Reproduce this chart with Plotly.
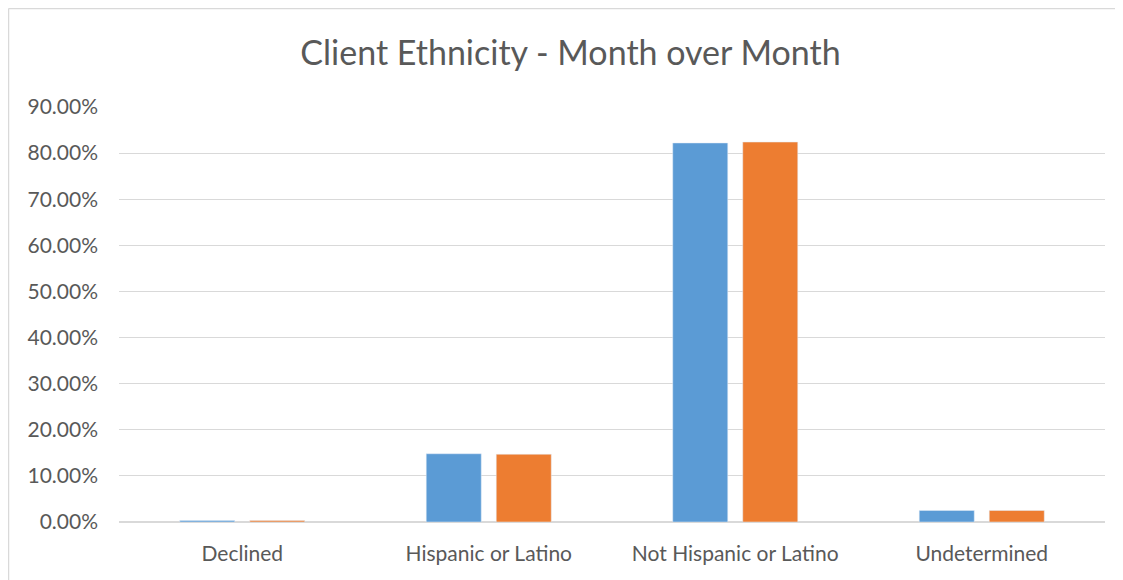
import plotly.graph_objects as go

categories = ["Declined", "Hispanic or Latino", "Not Hispanic or Latino", "Undetermined"]
month_1 = [0.003, 0.148, 0.822, 0.025]
month_2 = [0.003, 0.147, 0.824, 0.025]

fig = go.Figure()
fig.add_trace(go.Bar(x=categories, y=month_1, name="Month 1", marker_color="#5B9BD5"))
fig.add_trace(go.Bar(x=categories, y=month_2, name="Month 2", marker_color="#ED7D31"))

# chart frame (page body adds an 8px offset): left and top edges only
W, H = 1115, 572
L, R, T, B = 111, 18, 99, 58
pw, ph = W - L - R, H - T - B
fx0, fy0 = (0.5 - L) / pw, -(B + 20) / ph
fx1, fy1 = (W + 20 - L) / pw, (H - B - 0.5) / ph
fig.add_shape(type="line", xref="paper", yref="paper", x0=fx0, y0=fy0, x1=fx0, y1=fy1,
              line=dict(color="#D9D9D9", width=1.5), layer="below")
fig.add_shape(type="line", xref="paper", yref="paper", x0=fx0, y0=fy1, x1=fx1, y1=fy1,
              line=dict(color="#D9D9D9", width=1.5), layer="below")

fig.update_layout(
    title=dict(text="Client Ethnicity - Month over Month", x=0.5045, xanchor="center",
               y=1 - 45 / H, yanchor="middle",
               font=dict(family="Lato", size=34, color="#595959")),
    width=W, height=H,
    margin=dict(l=L, r=R, t=T, b=B, autoexpand=False),
    plot_bgcolor="white", paper_bgcolor="white",
    showlegend=False,
    barmode="group", bargap=0.432, bargroupgap=0.214,
    font=dict(family="Lato", size=21, color="#595959"),
)
fig.update_xaxes(showline=False, ticks="", ticklabelstandoff=17, tickfont=dict(size=21))
fig.update_yaxes(range=[0, 0.9], dtick=0.1, tickformat=".2%",
                 gridcolor="#D9D9D9", gridwidth=1, zeroline=True,
                 zerolinecolor="#D9D9D9", zerolinewidth=1.5,
                 ticks="", ticklabelstandoff=20, tickfont=dict(size=21))

fig.write_html("out.html")
